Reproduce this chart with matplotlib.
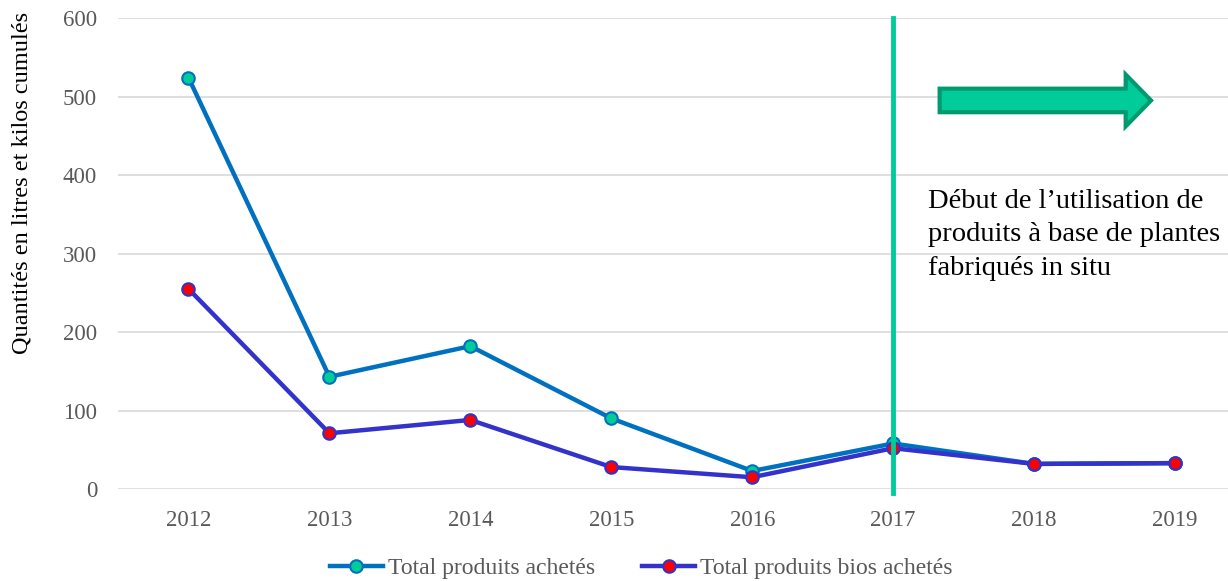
import matplotlib
matplotlib.use("Agg")
import matplotlib.pyplot as plt
from matplotlib.patches import FancyArrow

# ------------------------------------------------------------
# Data
# ------------------------------------------------------------
years = ["2012", "2013", "2014", "2015", "2016", "2017", "2018", "2019"]
total_achetes = [524, 143, 182, 90, 23, 58, 32, 33]
total_bios = [255, 71, 88, 28, 15, 52, 32, 33]
start_year = "2017"
note = "Début de l\u2019utilisation de\nproduits à base de plantes\nfabriqués in situ"

plt.rcParams['font.family'] = ['Liberation Serif', 'DejaVu Serif']

fig = plt.figure(figsize=(12.28, 5.81), dpi=100)
ax = fig.add_axes([0.0961, 0.1583, 0.9039, 0.8107])

x = list(range(len(years)))

ax.plot(x, total_achetes, color='#0070C0', lw=3.2, marker='o', markersize=9,
        markerfacecolor='#00CC99', markeredgecolor='#0070C0', markeredgewidth=1.5,
        label='Total produits achetés', zorder=3)
ax.plot(x, total_bios, color='#3333CC', lw=3.2, marker='o', markersize=9,
        markerfacecolor='#FF0000', markeredgecolor='#3333CC', markeredgewidth=1.5,
        label='Total produits bios achetés', zorder=4)

# vertical marker line at the start year
xs = years.index(start_year)
ax.axvline(xs, ymin=-0.008, ymax=1.0, color='#00CC99', lw=3.5, zorder=5, clip_on=False)

# arrow
ax.add_patch(FancyArrow(5.33, 495, 1.5, 0, width=30, head_width=66, head_length=0.18,
                        length_includes_head=True, fc='#00CC99', ec='#009970', lw=3, zorder=5))

ax.text(5.245, 324, note, fontsize=20.5, color='black', va='center', ha='left',
        linespacing=1.45)

ax.set_xlim(-0.5, 7.376)
ax.set_ylim(0, 600)
ax.set_yticks(range(0, 601, 100))
ax.set_xticks(x)
ax.set_xticklabels(years)
ax.grid(axis='y', color='#D9D9D9', lw=1.2)
ax.set_axisbelow(True)
for s in ax.spines.values():
    s.set_visible(False)
ax.tick_params(length=0, labelsize=16.5, colors='#595959', pad=15)
ax.tick_params(axis='x', pad=15)

ax.set_ylabel("Quantités en litres et kilos cumulés", fontsize=17.5, color='black')
ax.yaxis.set_label_coords(-0.077, 0.65)

fig.legend(loc='center', bbox_to_anchor=(0.522, 0.022), ncol=2, frameon=False,
           fontsize=17, labelcolor='#595959', handlelength=2.25, columnspacing=2,
           handletextpad=0.2)

fig.savefig("out.png", dpi=100)
